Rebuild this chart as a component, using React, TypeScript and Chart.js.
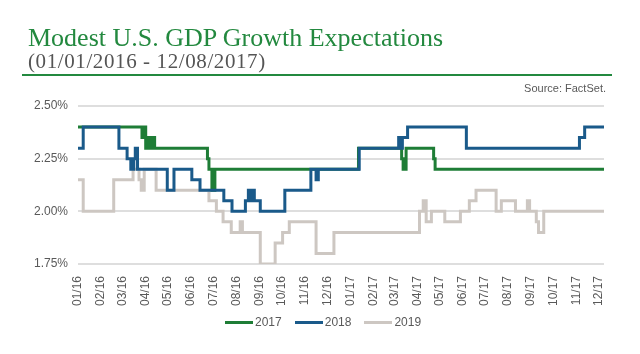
import React, { useEffect, useRef } from 'react';
import { Chart, registerables } from 'chart.js';
Chart.register(...registerables);

const END_DATE = '2017-12-08';
const tickDates = [
  '2016-01-01', '2016-02-01', '2016-03-01', '2016-04-01', '2016-05-01', '2016-06-01',
  '2016-07-01', '2016-08-01', '2016-09-01', '2016-10-01', '2016-11-01', '2016-12-01',
  '2017-01-01', '2017-02-01', '2017-03-01', '2017-04-01', '2017-05-01', '2017-06-01',
  '2017-07-01', '2017-08-01', '2017-09-01', '2017-10-01', '2017-11-01', '2017-12-01',
];
const tickLabels = [
  '01/16', '02/16', '03/16', '04/16', '05/16', '06/16', '07/16', '08/16', '09/16', '10/16', '11/16', '12/16',
  '01/17', '02/17', '03/17', '04/17', '05/17', '06/17', '07/17', '08/17', '09/17', '10/17', '11/17', '12/17',
];
const yTicks = [1.75, 2.0, 2.25, 2.5];

const dates2017 = [
  '2016-01-01', '2016-03-27', '2016-03-30', '2016-04-01', '2016-04-05', '2016-04-08', '2016-04-10', '2016-04-13',
  '2016-06-23', '2016-06-25', '2016-06-29', '2016-07-03', '2017-01-12', '2017-03-11', '2017-03-13', '2017-03-17',
  '2017-04-23', '2017-04-25',
];
const values2017 = [
  2.40, 2.35, 2.40, 2.30, 2.35, 2.30, 2.35, 2.30,
  2.25, 2.20, 2.10, 2.20, 2.30, 2.25, 2.20, 2.30,
  2.25, 2.20,
];

const dates2018 = [
  '2016-01-01', '2016-01-08', '2016-02-25', '2016-03-07', '2016-03-12', '2016-03-16', '2016-03-18', '2016-03-21',
  '2016-04-30', '2016-05-09', '2016-06-02', '2016-06-13', '2016-07-15', '2016-07-26', '2016-08-13', '2016-08-17',
  '2016-08-19', '2016-08-22', '2016-08-25', '2016-09-02', '2016-10-05', '2016-11-09', '2016-11-16', '2016-11-19',
  '2017-01-13', '2017-03-07', '2017-03-10', '2017-03-12', '2017-03-19', '2017-06-06', '2017-11-05', '2017-11-12',
];
const values2018 = [
  2.30, 2.40, 2.30, 2.25, 2.20, 2.25, 2.30, 2.20,
  2.10, 2.20, 2.15, 2.10, 2.05, 2.00, 2.05, 2.10,
  2.05, 2.10, 2.05, 2.00, 2.10, 2.20, 2.15, 2.20,
  2.30, 2.35, 2.30, 2.35, 2.40, 2.30, 2.35, 2.40,
];

const dates2019 = [
  '2016-01-01', '2016-01-08', '2016-02-18', '2016-03-15', '2016-03-23', '2016-03-26', '2016-03-30', '2016-04-15',
  '2016-06-25', '2016-07-05', '2016-07-14', '2016-07-25', '2016-08-06', '2016-08-09', '2016-09-02', '2016-09-22',
  '2016-10-02', '2016-10-11', '2016-11-16', '2016-12-10', '2017-04-04', '2017-04-09', '2017-04-13', '2017-04-20',
  '2017-05-08', '2017-05-29', '2017-06-10', '2017-06-19', '2017-07-16', '2017-07-23', '2017-08-11', '2017-08-27',
  '2017-08-30', '2017-09-08', '2017-09-11', '2017-09-18',
];
const values2019 = [
  2.15, 2.00, 2.15, 2.20, 2.15, 2.10, 2.20, 2.10,
  2.05, 2.00, 1.95, 1.90, 1.95, 1.90, 1.75, 1.85,
  1.90, 1.95, 1.80, 1.90, 2.00, 2.05, 1.95, 2.00,
  1.95, 2.00, 2.05, 2.10, 2.00, 2.05, 2.00, 2.05,
  2.00, 1.95, 1.90, 2.00,
];

const seriesLabels = ['2017', '2018', '2019'];
const GREEN = '#1e7d36';
const BLUE = '#1a5a8a';
const GRAY = '#cdc7c2';
const TITLE_GREEN = '#23893f';
const seriesColors = [GREEN, BLUE, GRAY];

function dayOf(s: string): number {
  const [y, m, d] = s.split('-').map(Number);
  return (Date.UTC(y, m - 1, d) - Date.UTC(2016, 0, 1)) / 86400000;
}

function toPoints(dates: string[], values: number[]) {
  const pts = dates.map((d, i) => ({ x: dayOf(d), y: values[i] }));
  pts.push({ x: dayOf(END_DATE), y: values[values.length - 1] });
  return pts;
}

export default function App() {
  const ref = useRef<HTMLCanvasElement | null>(null);

  useEffect(() => {
    document.body.style.margin = '0';
    const canvas = ref.current;
    if (!canvas) return;
    const font = { family: '"Liberation Sans", Arial, sans-serif', size: 12 };
    const chart = new Chart(canvas, {
      type: 'line',
      data: {
        datasets: [
          { label: seriesLabels[0], data: toPoints(dates2017, values2017), borderColor: GREEN, backgroundColor: GREEN, borderWidth: 3, pointRadius: 0, stepped: true, order: 1 },
          { label: seriesLabels[1], data: toPoints(dates2018, values2018), borderColor: BLUE, backgroundColor: BLUE, borderWidth: 3, pointRadius: 0, stepped: true, order: 0 },
          { label: seriesLabels[2], data: toPoints(dates2019, values2019), borderColor: GRAY, backgroundColor: GRAY, borderWidth: 3, pointRadius: 0, stepped: true, order: 2 },
        ],
      },
      options: {
        animation: false,
        responsive: false,
        layout: { padding: { left: 28, right: 36, top: 106, bottom: 48 } },
        scales: {
          x: {
            type: 'linear',
            min: 0,
            max: dayOf(END_DATE),
            afterBuildTicks: (s: any) => { s.ticks = tickDates.map((d) => ({ value: dayOf(d) })); },
            afterFit: (s: any) => { s.height = 42; },
            ticks: {
              autoSkip: false, minRotation: 90, maxRotation: 90, padding: 4, color: '#595959', font,
              callback: (_v: any, i: number) => tickLabels[i],
            },
            grid: { display: false },
            border: { display: false },
          },
          y: {
            min: 1.75,
            max: 2.5,
            afterBuildTicks: (s: any) => { s.ticks = yTicks.map((v) => ({ value: v })); },
            afterFit: (s: any) => { s.width = 50; },
            ticks: { padding: 10, color: '#595959', font, callback: (v: any) => Number(v).toFixed(2) + '%' },
            grid: { color: '#dedede', lineWidth: 2, drawTicks: false },
            border: { display: false },
          },
        },
        plugins: {
          legend: { display: false },
          tooltip: { enabled: false },
        },
      },
    } as any);
    return () => chart.destroy();
  }, []);

  return (
    <div style={{ position: 'relative', width: 640, height: 354, background: '#fff', overflow: 'hidden' }}>
      <canvas ref={ref} width={640} height={354} style={{ position: 'absolute', left: 0, top: 0 }} />
      <div style={{ position: 'absolute', left: 28, top: 25, fontFamily: '"Liberation Serif", "Times New Roman", serif', fontSize: 26, lineHeight: '26px', color: TITLE_GREEN, whiteSpace: 'nowrap' }}>
        Modest U.S. GDP Growth Expectations
      </div>
      <div style={{ position: 'absolute', left: 28, top: 51, fontFamily: '"Liberation Serif", "Times New Roman", serif', fontSize: 21, lineHeight: '21px', letterSpacing: 0.6, color: '#555555', whiteSpace: 'nowrap' }}>
        (01/01/2016 - 12/08/2017)
      </div>
      <div style={{ position: 'absolute', left: 22, top: 74, width: 590, height: 2, background: TITLE_GREEN }} />
      <div style={{ position: 'absolute', right: 34, top: 82, fontFamily: '"Liberation Sans", Arial, sans-serif', fontSize: 11, lineHeight: '12px', color: '#595959', whiteSpace: 'nowrap' }}>
        Source: FactSet.
      </div>
      <div style={{ position: 'absolute', left: 225, top: 315, height: 14, display: 'flex', alignItems: 'center', fontFamily: '"Liberation Sans", Arial, sans-serif', fontSize: 12, color: '#595959', whiteSpace: 'nowrap' }}>
        {seriesLabels.map((lab, i) => (
          <div key={lab} style={{ display: 'flex', alignItems: 'center', marginRight: 13 }}>
            <div style={{ width: 28, height: 3, background: seriesColors[i], marginRight: 2 }} />
            <span>{lab}</span>
          </div>
        ))}
      </div>
    </div>
  );
}
